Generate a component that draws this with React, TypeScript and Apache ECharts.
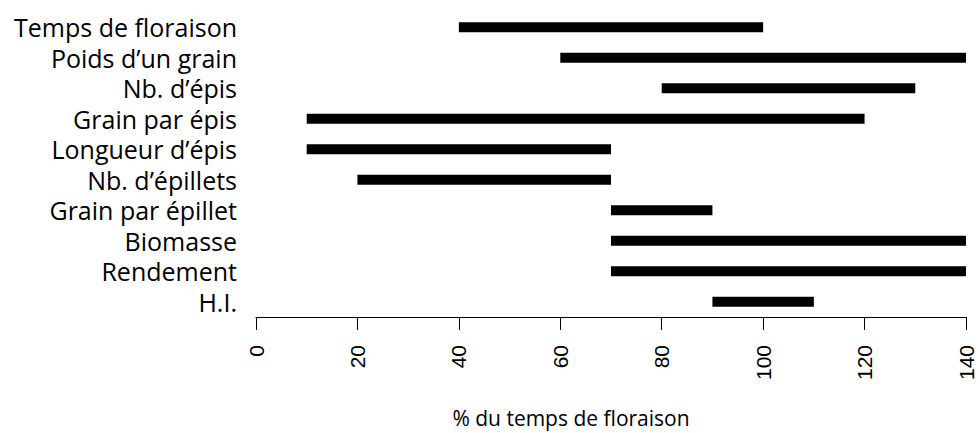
import React, { useEffect, useRef } from "react";
import * as echarts from "echarts";

const categories = [
  "Temps de floraison",
  "Poids d\u2019un grain",
  "Nb. d\u2019\u00e9pis",
  "Grain par \u00e9pis",
  "Longueur d\u2019\u00e9pis",
  "Nb. d\u2019\u00e9pillets",
  "Grain par \u00e9pillet",
  "Biomasse",
  "Rendement",
  "H.I.",
];
const startValues = [40, 60, 80, 10, 10, 20, 70, 70, 70, 90];
const endValues = [100, 140, 130, 120, 70, 70, 90, 140, 140, 110];
const xTitle = "% du temps de floraison";

export default function App() {
  const ref = useRef<HTMLDivElement>(null);
  useEffect(() => {
    if (!ref.current) return;
    const chart = echarts.init(ref.current, null, { renderer: "svg" });
    const lengths = endValues.map((e, i) => e - startValues[i]);
    chart.setOption({
      animation: false,
      backgroundColor: "#ffffff",
      grid: { left: 256, right: 14, top: 12, bottom: 116, containLabel: false },
      xAxis: {
        type: "value",
        min: 0,
        max: 140,
        interval: 20,
        splitLine: { show: false },
        axisLine: { show: true, lineStyle: { color: "#000", width: 1 } },
        axisTick: { show: true, length: 13, lineStyle: { color: "#000", width: 1 } },
        axisLabel: {
          rotate: 90,
          margin: 28,
          color: "#000",
          fontFamily: "Liberation Sans",
          fontSize: 21,
        },
      },
      yAxis: {
        type: "category",
        inverse: true,
        data: categories,
        axisLine: { show: false },
        axisTick: { show: false },
        splitLine: { show: false },
        axisLabel: {
          interval: 0,
          margin: 19,
          color: "#000",
          fontFamily: "Open Sans",
          fontSize: 25,
          lineHeight: 25,
          verticalAlign: "middle",
          padding: [0, 0, 3, 0],
        },
      },
      series: [
        {
          type: "bar",
          stack: "range",
          data: startValues,
          itemStyle: { color: "transparent" },
          barWidth: 10,
          silent: true,
        },
        {
          type: "bar",
          stack: "range",
          data: lengths,
          itemStyle: { color: "#000" },
          barWidth: 10,
        },
      ],
      graphic: [
        {
          type: "text",
          x: 571,
          y: 418,
          style: {
            text: xTitle,
            fill: "#000",
            font: "21px 'Open Sans'",
            textAlign: "center",
            textVerticalAlign: "middle",
          },
        },
      ],
    });
    return () => chart.dispose();
  }, []);
  return (
    <div
      ref={ref}
      style={{ position: "fixed", left: 0, top: 0, width: 980, height: 433 }}
    />
  );
}
